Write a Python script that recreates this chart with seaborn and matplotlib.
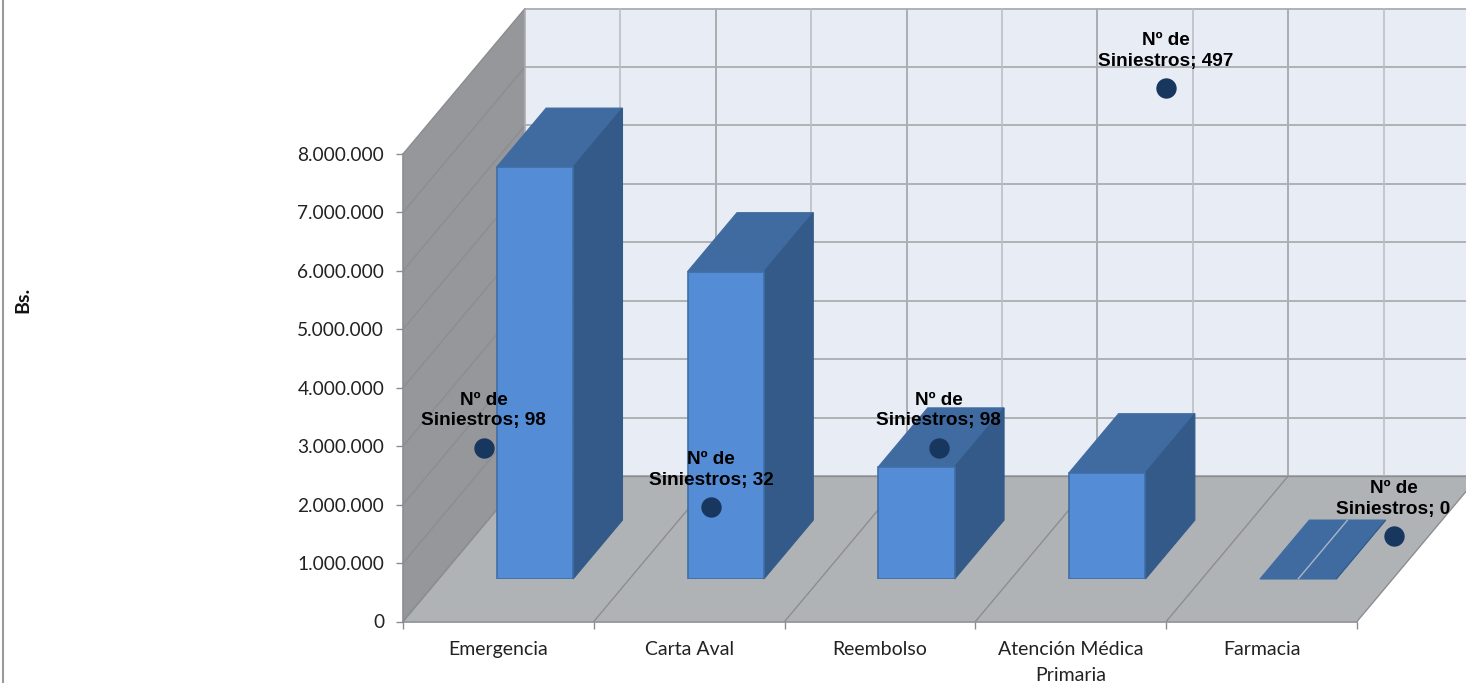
import numpy as np
import matplotlib
matplotlib.use("Agg")
import matplotlib.pyplot as plt
from matplotlib.lines import Line2D
from matplotlib.patches import Polygon
import seaborn as sns

# =========================================
# DATA
# =========================================
categories = ["Emergencia", "Carta Aval", "Reembolso", "Atención Médica\nPrimaria", "Farmacia"]
montos = [7050000, 5260000, 1920000, 1820000, 0]
siniestros = [98, 32, 98, 497, 0]
y_ticks = [0, 1000000, 2000000, 3000000, 4000000, 5000000, 6000000, 7000000, 8000000]

# =========================================
# STYLE / LAYOUT (pixels of the 1466x683 figure)
# =========================================
W, H = 1466, 683
LEFT, RIGHT, TOP, BOTTOM = 403, 1357, 154, 621.5
PX_CAT = (RIGHT - LEFT) / 5
PX_VAL = (BOTTOM - TOP) / 8000000
WALL_DX = 122 / PX_CAT
WALL_DY = 145.5 / PX_VAL
BAR_SHIFT_X, BAR_SHIFT_Y = 36.5, 42.5
BAR_DEPTH = 0.405

C_BACK, C_FLOOR, C_SIDE_WALL = "#E8ECF5", "#B0B3B6", "#96979A"
C_GRID, C_GRID_LIGHT, C_LINE = "#ABADB0", "#BDBFC3", "#8C8D90"
C_FRONT, C_EDGE, C_TOP, C_SIDE = "#558CD6", "#3F6EA8", "#3F6BA1", "#335A88"
C_POINT = "#17375E"

sns.set_theme(style="white")
plt.rcParams["font.family"] = ["Lato", "DejaVu Sans"]
fig = plt.figure(figsize=(W / 100, H / 100), dpi=100)


def axes_rect(left, right, top, bottom):
    return [left / W, (H - bottom) / H, (right - left) / W, (bottom - top) / H]


# =========================================
# FRONT PLANE: real axis, ticks and the box
# =========================================
ax = fig.add_axes(axes_rect(LEFT, RIGHT, TOP, BOTTOM))
ax.patch.set_visible(False)
ax.set_xlim(-0.5, 4.5)
ax.set_ylim(0, 8000000)

x0, x1 = -0.5, 4.5
ymax = y_ticks[-1]
boundaries = np.arange(x0, x1 + 0.5)

# back wall, runs past the right edge of the picture
ax.add_patch(Polygon([(x0 + WALL_DX, WALL_DY), (x1 + WALL_DX, WALL_DY),
                      (x1 + WALL_DX, ymax + WALL_DY), (x0 + WALL_DX, ymax + WALL_DY)],
                     fc=C_BACK, ec="none", clip_on=False, zorder=1))
for v in y_ticks:
    ax.plot([x0 + WALL_DX, x1 + WALL_DX], [v + WALL_DY] * 2, color=C_GRID, lw=1.3,
            clip_on=False, zorder=2)
for b in boundaries[1:]:
    ax.plot([b + WALL_DX] * 2, [WALL_DY, ymax + WALL_DY], color=C_GRID, lw=1.4,
            clip_on=False, zorder=2)
for c in boundaries[:-1] + 0.5:
    ax.plot([c + WALL_DX] * 2, [WALL_DY, ymax + WALL_DY], color=C_GRID_LIGHT, lw=1.2,
            clip_on=False, zorder=2)

# left wall
ax.add_patch(Polygon([(x0, 0), (x0 + WALL_DX, WALL_DY), (x0 + WALL_DX, ymax + WALL_DY), (x0, ymax)],
                     fc=C_SIDE_WALL, ec="none", clip_on=False, zorder=3))
for v in y_ticks:
    ax.plot([x0, x0 + WALL_DX], [v, v + WALL_DY], color=C_LINE, lw=1, clip_on=False, zorder=4)
ax.plot([x0 + WALL_DX] * 2, [WALL_DY, ymax + WALL_DY], color=C_GRID, lw=1.2, clip_on=False, zorder=4)

# floor
ax.add_patch(Polygon([(x0, 0), (x1, 0), (x1 + WALL_DX, WALL_DY), (x0 + WALL_DX, WALL_DY)],
                     fc=C_FLOOR, ec="none", clip_on=False, zorder=3))
for b in boundaries:
    ax.plot([b, b + WALL_DX], [0, WALL_DY], color=C_LINE, lw=1, clip_on=False, zorder=4)
ax.plot([x0 + WALL_DX, x1 + WALL_DX], [WALL_DY, WALL_DY], color=C_LINE, lw=1, clip_on=False, zorder=4)

for side in ["top", "right"]:
    ax.spines[side].set_visible(False)
for side in ["left", "bottom"]:
    ax.spines[side].set_color(C_LINE)
    ax.spines[side].set_linewidth(1.2)
    ax.spines[side].set_zorder(5)

ax.set_yticks(y_ticks, [f"{v:,}".replace(",", ".") for v in y_ticks])
ax.set_xticks(range(len(categories)), categories)
ax.set_xticks(boundaries, minor=True)
ax.tick_params(axis="y", length=5, width=1, color=C_LINE, labelsize=13.8, labelcolor="#222222", pad=8.5,
               left=True)
ax.tick_params(axis="x", which="major", length=0, labelsize=14, labelcolor="#222222", pad=13.7, bottom=False)
ax.tick_params(axis="x", which="minor", length=5, width=1, color=C_LINE, bottom=True)
for lab in ax.get_xticklabels():
    lab.set_linespacing(1.68)
ax.set_ylabel("Bs.", fontsize=14, fontweight="bold", color="#111111")
ax.yaxis.set_label_coords((31 - LEFT) / (RIGHT - LEFT), (BOTTOM - 300) / (BOTTOM - TOP))

# chart frame, only the left side is in the crop
fig.add_artist(Line2D([3 / W, 3 / W], [0, 1], transform=fig.transFigure, color="#9A9A9A", lw=1.5))

# =========================================
# BARS: own axes, pushed back on the floor
# =========================================
ax_bars = fig.add_axes(axes_rect(LEFT + BAR_SHIFT_X, RIGHT + BAR_SHIFT_X,
                                 TOP - BAR_SHIFT_Y, BOTTOM - BAR_SHIFT_Y))
sns.barplot(x=categories, y=montos, color=C_FRONT, saturation=1, width=0.4,
            edgecolor=C_EDGE, linewidth=1.2, ax=ax_bars)
ax_bars.set_xlim(-0.5, 4.5)
ax_bars.set_ylim(0, 8000000)
ax_bars.axis("off")

bar_dx = WALL_DX * BAR_DEPTH
bar_dy = WALL_DY * BAR_DEPTH
for bar in list(ax_bars.patches):
    bx, bw, bh = bar.get_x(), bar.get_width(), bar.get_height()
    bar.set_zorder(3)
    ax_bars.add_patch(Polygon([(bx, bh), (bx + bw, bh), (bx + bw + bar_dx, bh + bar_dy), (bx + bar_dx, bh + bar_dy)],
                              fc=C_TOP, ec=C_TOP, lw=0.8, clip_on=False, zorder=2))
    ax_bars.add_patch(Polygon([(bx + bw, 0), (bx + bw + bar_dx, bar_dy), (bx + bw + bar_dx, bh + bar_dy), (bx + bw, bh)],
                              fc=C_SIDE, ec=C_SIDE, lw=0.8, clip_on=False, zorder=2))
    if bh == 0:
        # empty bar shows its centre seam
        bar.set_visible(False)
        ax_bars.plot([bx + bw / 2, bx + bw / 2 + bar_dx], [0, bar_dy], color="#A9B5C6", lw=1,
                     clip_on=False, zorder=4)

# =========================================
# POINTS: hidden secondary scale
# =========================================
ax_pts = fig.add_axes([0, 0, 1, 1])
PT_X0, PT_DX = 483.5, 227.5
PT_Y0, PT_DY = 536, 448 / 497
sns.scatterplot(x=list(range(len(siniestros))), y=siniestros, color=C_POINT, s=215, linewidth=0,
                ax=ax_pts, zorder=5)
ax_pts.set_xlim((0 - PT_X0) / PT_DX, (W - PT_X0) / PT_DX)
ax_pts.set_ylim((PT_Y0 - H) / PT_DY, PT_Y0 / PT_DY)
ax_pts.axis("off")

for i, n in enumerate(siniestros):
    ax_pts.annotate(f"Nº de\nSiniestros; {n}", (i, n), xytext=(0, 13.3), textcoords="offset points",
                    ha="center", va="bottom", fontsize=13.7, fontweight="bold", color="black",
                    family=["Liberation Sans"], linespacing=1.28, annotation_clip=False, zorder=6)

fig.savefig("out.png", dpi=100)
